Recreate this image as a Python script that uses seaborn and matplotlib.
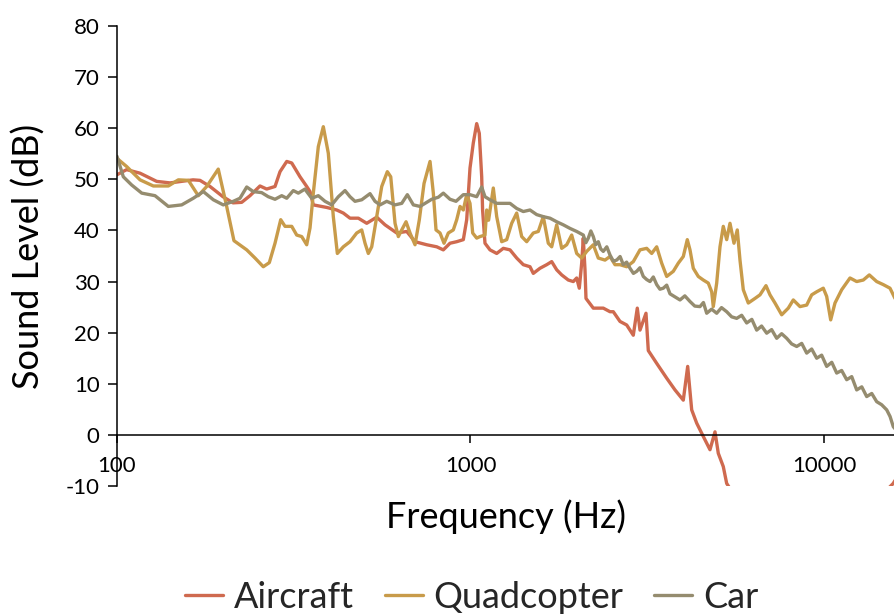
import pandas as pd
import matplotlib
matplotlib.use("Agg")
import matplotlib.pyplot as plt
from matplotlib.ticker import FixedLocator, NullLocator, FixedFormatter
import seaborn as sns

# values (Hz, dB)
aircraft_freq = [100, 106.5, 116.2, 129.5, 141.3, 164.1, 171.7, 183.3, 199.4, 212.9,
                 225.3, 237.8, 253.8, 265.1, 279.9, 289.2, 302.1, 312.1, 329.4, 344.1,
                 351.6, 359.2, 392.0, 418.4, 436.8, 456.2, 481.6, 508.7, 542.9, 573.1,
                 618.5, 660.2, 696.8, 752.0, 802.6, 837.8, 875.1, 914.2, 954.4, 975.6,
                 996.8, 1018.4, 1041.2, 1059.0, 1075.7, 1082, 1099, 1135.5, 1186.2, 1238.3,
                 1293.5, 1351.2, 1410.5, 1473.5, 1505.5, 1572.6, 1642.7, 1697.1, 1753.3, 1811.4,
                 1890.9, 1953.6, 1997.3, 2031.4, 2063.4, 2085.0, 2108.2, 2122.0, 2225.3, 2375.1,
                 2481.1, 2535.0, 2648.0, 2766.2, 2887.7, 2963.9, 3016.5, 3136.7, 3184.1, 3363.2,
                 3589.5, 3788.9, 3999.4, 4115.7, 4224.3, 4364.1, 4555.8, 4759.0, 4916.6, 5023.4,
                 5189.6, 5305.9, 5600, 6500, 8000, 11000, 14000, 15700, 16500]
aircraft_db = [50.9, 51.9, 51.2, 49.6, 49.3, 49.9, 49.8, 48.6, 46.6, 45.4,
               45.5, 46.8, 48.7, 48.1, 48.6, 51.5, 53.5, 53.2, 50.5, 48.6,
               47.6, 45.0, 44.5, 44.0, 43.4, 42.4, 42.4, 41.4, 42.6, 41.1,
               39.5, 39.8, 37.8, 37.2, 36.8, 36.2, 37.5, 37.8, 38.2, 42.1,
               52.2, 57.1, 60.9, 59.0, 50.5, 44.0, 37.5, 36.2, 35.5, 36.5,
               36.2, 34.6, 33.3, 32.9, 31.6, 32.6, 33.3, 33.9, 32.3, 31.3,
               30.3, 30.0, 30.7, 28.7, 33.6, 38.5, 32.3, 26.7, 24.8, 24.8,
               24.1, 24.1, 22.2, 21.5, 19.5, 24.8, 20.5, 23.8, 16.5, 14.0,
               11.1, 8.8, 6.8, 13.4, 4.9, 2.3, -0.3, -2.9, 0.6, -3.6,
               -6.2, -9.5, -12, -15, -17, -16, -13, -9.5, -7]

quad_freq = [100, 106.5, 116.2, 126.7, 139.7, 149.1, 159.2, 169.8, 179.4, 193.4,
             204.3, 214.2, 232.8, 245.7, 259.3, 269.7, 279.9, 290.5, 298.8, 312.1,
             322.4, 333.1, 344.1, 351.6, 359.2, 371.1, 383.4, 396.1, 409.2, 420.1,
             436.8, 456.2, 476.6, 492.4, 503.1, 514.0, 525.5, 542.9, 560.9, 581.8,
             594.8, 611.7, 625.0, 639.0, 657.2, 674.5, 696.8, 716.6, 738.9, 768.3,
             785.0, 798.9, 820.0, 841.6, 865.5, 894.1, 914.2, 934.1, 954.4, 975.6,
             996.8, 1014.4, 1041.2, 1063.8, 1099.1, 1111.3, 1125, 1160.2, 1186.2, 1225.4,
             1266.0, 1307.9, 1351.2, 1395.9, 1442.1, 1505.5, 1555.3, 1606.7, 1659.9, 1697.1,
             1753.3, 1811.4, 1871.3, 1933.3, 1997.3, 2063.4, 2131.7, 2225.3, 2299.0, 2401.6,
             2481.1, 2563.2, 2648.0, 2766.2, 2887.7, 3016.5, 3151.0, 3255.4, 3363.2, 3474.5,
             3589.5, 3747.2, 3871.3, 3999.4, 4105.0, 4177.8, 4268.5, 4409.8, 4555.8, 4706.5,
             4812.0, 4862.4, 4971.3, 5079.3, 5189.6, 5305.9, 5421.2, 5564.3, 5685.2, 5786.1,
             5911.8, 6107.6, 6380.0, 6591.1, 6854.0, 7034.9, 7268.0, 7592.2, 7925.7, 8188.0,
             8553.4, 8934.9, 9230.7, 9536.3, 9954.5, 10177, 10446, 10743, 11223, 11847,
             12375, 12919, 13434, 14096, 14716, 15373, 15882, 16500]
quad_db = [54.1, 52.5, 49.9, 48.7, 48.7, 49.9, 49.8, 46.8, 48.6, 52.0,
           44.7, 38.0, 36.2, 34.6, 32.9, 33.7, 37.5, 42.1, 40.8, 40.8,
           39.1, 38.8, 37.2, 40.5, 47.3, 56.4, 60.3, 55.1, 42.7, 35.5,
           36.8, 37.8, 39.5, 40.1, 37.5, 35.5, 36.8, 42.7, 48.6, 51.5,
           50.5, 41.4, 38.8, 40.1, 41.7, 39.5, 37.2, 42.1, 49.2, 53.5,
           47.3, 40.1, 39.5, 37.5, 39.5, 40.1, 42.1, 44.7, 44.0, 47.0,
           45.3, 39.5, 38.5, 38.8, 39.1, 44.0, 42.0, 48.3, 42.7, 37.8,
           38.2, 41.4, 43.4, 38.8, 37.8, 39.5, 39.8, 42.7, 37.5, 36.8,
           41.1, 36.5, 37.2, 39.1, 35.5, 34.6, 35.9, 37.2, 34.6, 34.2,
           34.9, 33.3, 33.3, 32.9, 33.9, 36.2, 36.5, 35.5, 36.8, 33.6,
           31.0, 32.0, 33.6, 34.9, 38.2, 36.2, 32.6, 31.0, 30.3, 29.7,
           28.0, 25.1, 29.7, 36.8, 40.8, 38.2, 41.4, 37.5, 40.1, 34.2,
           28.4, 25.8, 26.7, 27.4, 29.2, 27.4, 25.8, 23.5, 24.8, 26.4,
           25.1, 25.4, 27.4, 28.0, 28.7, 27.1, 22.5, 25.8, 28.4, 30.7,
           30.0, 30.3, 31.3, 30.0, 29.4, 28.7, 26.7, 25.5]

car_freq = [100, 104.2, 110.0, 117.5, 128.1, 139.7, 152.4, 164.4, 175.5, 187.3,
            199.8, 213.3, 222.8, 232.8, 243.0, 256.6, 267.9, 279.9, 292.4, 302.1,
            315.3, 325.8, 340.3, 344.1, 355.5, 371.1, 387.7, 405.0, 422.8, 441.6,
            456.2, 471.3, 492.4, 519.7, 536.9, 554.7, 579.5, 611.7, 639.0, 662.8,
            689.2, 719.9, 743.7, 776.9, 811.0, 837.8, 875.1, 910.0, 954.4, 996.8,
            1041.2, 1075.7, 1099.1, 1135.5, 1186.2, 1238.3, 1293.5, 1351.2, 1410.5, 1473.5,
            1539.2, 1606.7, 1678.4, 1753.3, 1830.3, 1912.0, 1997.3, 2085.0, 2120, 2154.0,
            2190, 2225.3, 2260, 2299.0, 2335, 2375.1, 2430, 2481.1, 2535, 2591.7,
            2650, 2705.6, 2765, 2826.3, 2890, 2952.4, 3015, 3082.0, 3150, 3219.6,
            3290, 3363.2, 3435, 3510.9, 3590, 3667.5, 3790, 3914.4, 4040, 4177.8,
            4310, 4458.9, 4560, 4657.8, 4810, 4971.3, 5130, 5305.9, 5480, 5663.0,
            5850, 6044.2, 6250, 6451.1, 6660, 6885.3, 7110, 7349.0, 7590, 7843.6,
            8100, 8371.4, 8650, 8934.9, 9230, 9536.3, 9850, 10177, 10520, 10863,
            11220, 11595, 11980, 12375, 12790, 13208, 13650, 14096, 14560, 15046,
            15380, 15707, 16200]
car_db = [54.5, 50.5, 48.9, 47.3, 46.8, 44.7, 45.0, 46.3, 47.6, 46.0,
          45.0, 45.7, 46.3, 48.5, 47.6, 47.4, 46.6, 46.1, 46.8, 46.3,
          47.8, 47.3, 48.1, 47.6, 46.3, 46.8, 45.7, 45.0, 46.6, 47.8,
          46.6, 45.7, 46.0, 47.2, 45.7, 45.0, 45.7, 45.0, 45.3, 47.0,
          45.0, 44.7, 45.3, 46.1, 46.5, 47.3, 46.1, 45.7, 47.0, 47.0,
          46.6, 48.5, 46.6, 46.0, 45.3, 45.3, 45.3, 44.3, 43.7, 44.0,
          43.1, 42.7, 42.4, 41.7, 41.1, 40.4, 39.8, 39.1, 37.6, 38.5,
          39.9, 38.8, 37.2, 37.8, 36.4, 35.9, 36.8, 35.2, 34.0, 34.2,
          34.9, 33.3, 33.8, 32.6, 31.6, 32.0, 32.7, 31.0, 30.4, 30.0,
          30.9, 29.4, 28.5, 28.7, 29.3, 27.6, 27.0, 26.4, 27.2, 26.1,
          25.2, 25.1, 25.9, 23.8, 24.6, 23.8, 24.9, 24.1, 23.1, 22.8,
          23.4, 21.9, 22.6, 20.5, 21.3, 19.9, 20.6, 18.9, 19.8, 18.9,
          17.8, 17.3, 17.9, 16.0, 16.8, 15.0, 15.6, 13.4, 14.2, 12.1,
          12.6, 10.8, 11.4, 8.8, 9.4, 7.5, 8.1, 6.5, 5.9, 4.9,
          3.6, 1.6, 0.5]

series_names = ["Aircraft", "Quadcopter", "Car"]
series_colors = ["#CF6A4F", "#C89B4A", "#958C6F"]
y_ticks = [-10, 0, 10, 20, 30, 40, 50, 60, 70, 80]
x_ticks = [100, 1000, 10000]
x_tick_labels = ["100", "1000", "10000"]

frames = []
for name, f, v in zip(series_names,
                      [aircraft_freq, quad_freq, car_freq],
                      [aircraft_db, quad_db, car_db]):
    frames.append(pd.DataFrame({"freq": f, "level": v, "source": name}))
df = pd.concat(frames, ignore_index=True)

sns.set_theme(style="white")
plt.rcParams["font.family"] = ["Lato", "DejaVu Sans"]
plt.rcParams["axes.edgecolor"] = "black"
plt.rcParams["axes.unicode_minus"] = False

fig = plt.figure(figsize=(8.95, 6.14), dpi=100)
ax = fig.add_axes([117 / 895, 1 - 486 / 614, 1 - 117 / 895, (486 - 26) / 614])

sns.lineplot(data=df, x="freq", y="level", hue="source", hue_order=series_names,
             palette=series_colors, estimator=None, sort=False, linewidth=2.4,
             legend=False, ax=ax)

ax.set_xscale("log")
ax.set_xlim(100, 15882)
ax.set_ylim(-10, 80)
ax.xaxis.set_major_locator(FixedLocator(x_ticks))
ax.xaxis.set_major_formatter(FixedFormatter(x_tick_labels))
ax.xaxis.set_minor_locator(NullLocator())
ax.set_yticks(y_ticks)

for side in ["top", "right"]:
    ax.spines[side].set_visible(False)
ax.spines["bottom"].set_position(("data", 0))
ax.spines["bottom"].set_linewidth(1.1)
ax.spines["left"].set_linewidth(1.1)

ax.tick_params(axis="y", direction="out", length=6.5, width=1.1, labelsize=16,
               pad=6, left=True, colors="black")
ax.tick_params(axis="x", direction="out", length=6, width=1.1, labelsize=16,
               pad=9, bottom=True, colors="black")

ax.set_xlabel("Frequency (Hz)", fontsize=26, color="black")
ax.set_ylabel("Sound Level (dB)", fontsize=26, color="black")
ax.xaxis.set_label_coords(0.5, -0.03)
ax.yaxis.set_label_coords(-0.092, 0.5)

handles = ax.get_lines()[:3]
fig.legend(handles, series_names, loc="center", bbox_to_anchor=(0.527, 0.027),
           ncol=3, frameon=False, fontsize=26, handlelength=1.05,
           handletextpad=0.3, columnspacing=0.85)

fig.savefig("out.png", dpi=100)
